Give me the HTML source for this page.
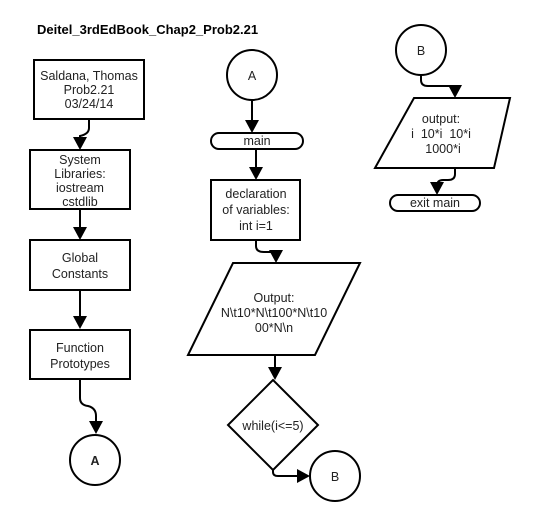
<!DOCTYPE html>
<html><head><style>body{margin:0;background:#fff}svg{display:block}text{font-family:"Liberation Sans",Arial,sans-serif;font-size:12.5px;fill:#222;text-anchor:middle}</style></head>
<body>
<svg width="549" height="521" viewBox="0 0 549 521" xmlns="http://www.w3.org/2000/svg">
<defs><marker id="a" markerWidth="14" markerHeight="14" refX="11" refY="7" orient="auto" markerUnits="userSpaceOnUse"><path d="M0,0 L13,7 L0,14 Z" fill="#000"/></marker></defs>
<g fill="none" stroke="#000" stroke-width="2">
<text x="37" y="34" style="font-weight:bold;font-size:13px;text-anchor:start;fill:#000" stroke="none">Deitel_3rdEdBook_Chap2_Prob2.21</text>
<rect x="34" y="60" width="110" height="59" fill="#fff"/>
<path d="M89,119 V128 Q89,134 80,136 V148" marker-end="url(#a)"/>
<rect x="30" y="150" width="100" height="59" fill="#fff"/>
<path d="M80,209 V238" marker-end="url(#a)"/>
<rect x="30" y="240" width="100" height="50"/>
<path d="M80,290 V327" marker-end="url(#a)"/>
<rect x="30" y="330" width="100" height="49"/>
<path d="M80,379 V398 Q80,405 88,406 Q96,408 96,416 V432" marker-end="url(#a)"/>
<circle cx="95" cy="460" r="25"/>
<circle cx="252" cy="75" r="25"/>
<path d="M252,100 V131" marker-end="url(#a)"/>
<rect x="211" y="133" width="92" height="16" rx="8"/>
<path d="M256,149 V178" marker-end="url(#a)"/>
<rect x="211" y="180" width="89" height="60"/>
<path d="M256,240 V246 Q256,252 264,252 H270 Q276,252 276,258 V261" marker-end="url(#a)"/>
<path d="M233,263 H360 L315,355 H188 Z"/>
<path d="M275,355 V378" marker-end="url(#a)"/>
<path d="M273,380 L318,425 L273,470 L228,425 Z"/>
<path d="M273,470 V472 Q273,476 278,476 H308" marker-end="url(#a)"/>
<circle cx="335" cy="476" r="25"/>
<circle cx="421" cy="50" r="25"/>
<path d="M421,75 V80 Q421,86 428,86 H449 Q455,86 455,92 V96" marker-end="url(#a)"/>
<path d="M414,98 H510 L494,168 H375 Z"/>
<path d="M455,168 V174 Q455,180 448,180 H443 Q437,180 437,186 V193" marker-end="url(#a)"/>
<rect x="390" y="195" width="90" height="16" rx="8"/>
</g>
<text x="89" y="80">Saldana, Thomas</text><text x="89" y="94">Prob2.21</text><text x="89" y="108">03/24/14</text>
<text x="80" y="164">System</text><text x="80" y="178">Libraries:</text><text x="80" y="192">iostream</text><text x="80" y="206">cstdlib</text>
<text x="80" y="262">Global</text><text x="80" y="278">Constants</text>
<text x="80" y="352">Function</text><text x="80" y="368">Prototypes</text>
<text x="95" y="465" style="font-weight:bold">A</text>
<text x="252" y="80">A</text>
<text x="257" y="145">main</text>
<text x="256" y="198">declaration</text><text x="256" y="214">of variables:</text><text x="256" y="230">int i=1</text>
<text x="274" y="302">Output:</text><text x="274" y="317">N\t10*N\t100*N\t10</text><text x="274" y="332">00*N\n</text>
<text x="273" y="430">while(i&lt;=5)</text>
<text x="335" y="481">B</text>
<text x="421" y="55">B</text>
<text x="441" y="123">output:</text><text x="441" y="138" style="white-space:pre">i  10*i  10*i</text><text x="443" y="153">1000*i</text>
<text x="435" y="207">exit main</text>
</svg>
</body></html>
